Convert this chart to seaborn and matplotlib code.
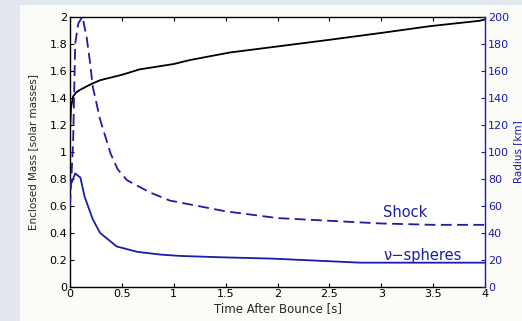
import matplotlib
matplotlib.use("Agg")
import matplotlib.pyplot as plt
import seaborn as sns
import pandas as pd
from matplotlib.patches import Rectangle

# ---- data ----
mass_t = [0.0, 0.01, 0.03, 0.06, 0.1, 0.2, 0.29, 0.5, 0.67, 1.0, 1.16, 1.54, 2.0, 2.51, 3.0, 3.47, 3.95, 4.0]
mass_m = [1.15, 1.33, 1.41, 1.44, 1.46, 1.50, 1.53, 1.57, 1.61, 1.65, 1.68, 1.735, 1.78, 1.83, 1.88, 1.93, 1.97, 1.98]

shock_t = [0.0, 0.03, 0.05, 0.08, 0.12, 0.16, 0.19, 0.22, 0.29, 0.39, 0.46, 0.55, 0.77, 0.96, 1.5, 2.0, 2.5, 3.0, 3.5, 4.0]
shock_r = [60, 107, 180, 195, 200, 185, 168, 148, 124, 99, 87, 79, 70, 64, 56, 51, 49, 47, 46, 46]

nu_t = [0.0, 0.02, 0.05, 0.1, 0.14, 0.22, 0.29, 0.45, 0.65, 0.87, 1.06, 1.45, 1.95, 2.8, 4.0]
nu_r = [75, 78, 84, 81, 67, 50, 40, 30, 26, 24, 23, 22, 21, 18, 18]

x_ticks = [0, 0.5, 1, 1.5, 2, 2.5, 3, 3.5, 4]
x_labels = ["0", "0.5", "1", "1.5", "2", "2.5", "3", "3.5", "4"]
yl_ticks = [0, 0.2, 0.4, 0.6, 0.8, 1.0, 1.2, 1.4, 1.6, 1.8, 2.0]
yl_labels = ["0", "0.2", "0.4", "0.6", "0.8", "1", "1.2", "1.4", "1.6", "1.8", "2"]
yr_ticks = [0, 20, 40, 60, 80, 100, 120, 140, 160, 180, 200]
yr_labels = [str(v) for v in yr_ticks]

sns.set_style("ticks")
plt.rcParams["font.family"] = ["DejaVu Sans"]
plt.rcParams["font.size"] = 8

BLUE = "#1c1ca6"

fig = plt.figure(figsize=(5.22, 3.21), dpi=100, facecolor="#fbfbf7")
# light grey border strips
fig.patches.append(Rectangle((0, 0), 20 / 522, 1, transform=fig.transFigure,
                             facecolor="#e3e7ee", edgecolor="none", zorder=-1))
fig.patches.append(Rectangle((0, 1 - 5 / 321), 1, 5 / 321, transform=fig.transFigure,
                             facecolor="#e3e7ee", edgecolor="none", zorder=-1))

ax = fig.add_axes([70 / 522, 1 - 287 / 321, 415 / 522, 270.3 / 321])
ax.set_facecolor("white")
ax2 = ax.twinx()

df_m = pd.DataFrame({"t": mass_t, "m": mass_m})
df_s = pd.DataFrame({"t": shock_t, "r": shock_r})
df_n = pd.DataFrame({"t": nu_t, "r": nu_r})

sns.lineplot(data=df_m, x="t", y="m", ax=ax, color="black", linewidth=1.3)
sns.lineplot(data=df_s, x="t", y="r", ax=ax2, color=BLUE, linewidth=1.3, linestyle=(0, (6, 3)))
sns.lineplot(data=df_n, x="t", y="r", ax=ax2, color=BLUE, linewidth=1.3)

ax.set_xlim(0, 4)
ax.set_ylim(0, 2)
ax2.set_ylim(0, 200)

ax.set_xticks(x_ticks)
ax.set_xticklabels(x_labels)
ax.set_yticks(yl_ticks)
ax.set_yticklabels(yl_labels)
ax2.set_yticks(yr_ticks)
ax2.set_yticklabels(yr_labels)

ax.tick_params(axis="both", direction="in", length=3, width=0.8, colors="black",
               top=True, labelsize=8)
ax.tick_params(axis="x", pad=1.5)
ax.tick_params(axis="y", right=False, pad=2)
ax2.tick_params(axis="y", direction="in", length=3, width=0.8, pad=2, colors=BLUE, labelsize=8)

for s in ["left", "bottom", "top"]:
    ax.spines[s].set_color("black")
    ax.spines[s].set_linewidth(1.0)
ax.spines["right"].set_visible(False)
ax2.spines["right"].set_color(BLUE)
ax2.spines["right"].set_linewidth(1.0)
for s in ["left", "bottom", "top"]:
    ax2.spines[s].set_visible(False)

ax.set_xlabel("Time After Bounce [s]", fontsize=8.5, labelpad=2)
ax.set_ylabel("Enclosed Mass [solar masses]", fontsize=7.5, labelpad=8)
ax2.set_ylabel("Radius [km]", fontsize=7.5, color=BLUE, labelpad=3)

ax2.text(3.23, 55, "Shock", color=BLUE, fontsize=10.5, ha="center", va="center")
ax2.text(3.40, 23.5, "ν−spheres", color=BLUE, fontsize=10.5, ha="center", va="center")

fig.savefig("out.png", dpi=100, facecolor=fig.get_facecolor())
